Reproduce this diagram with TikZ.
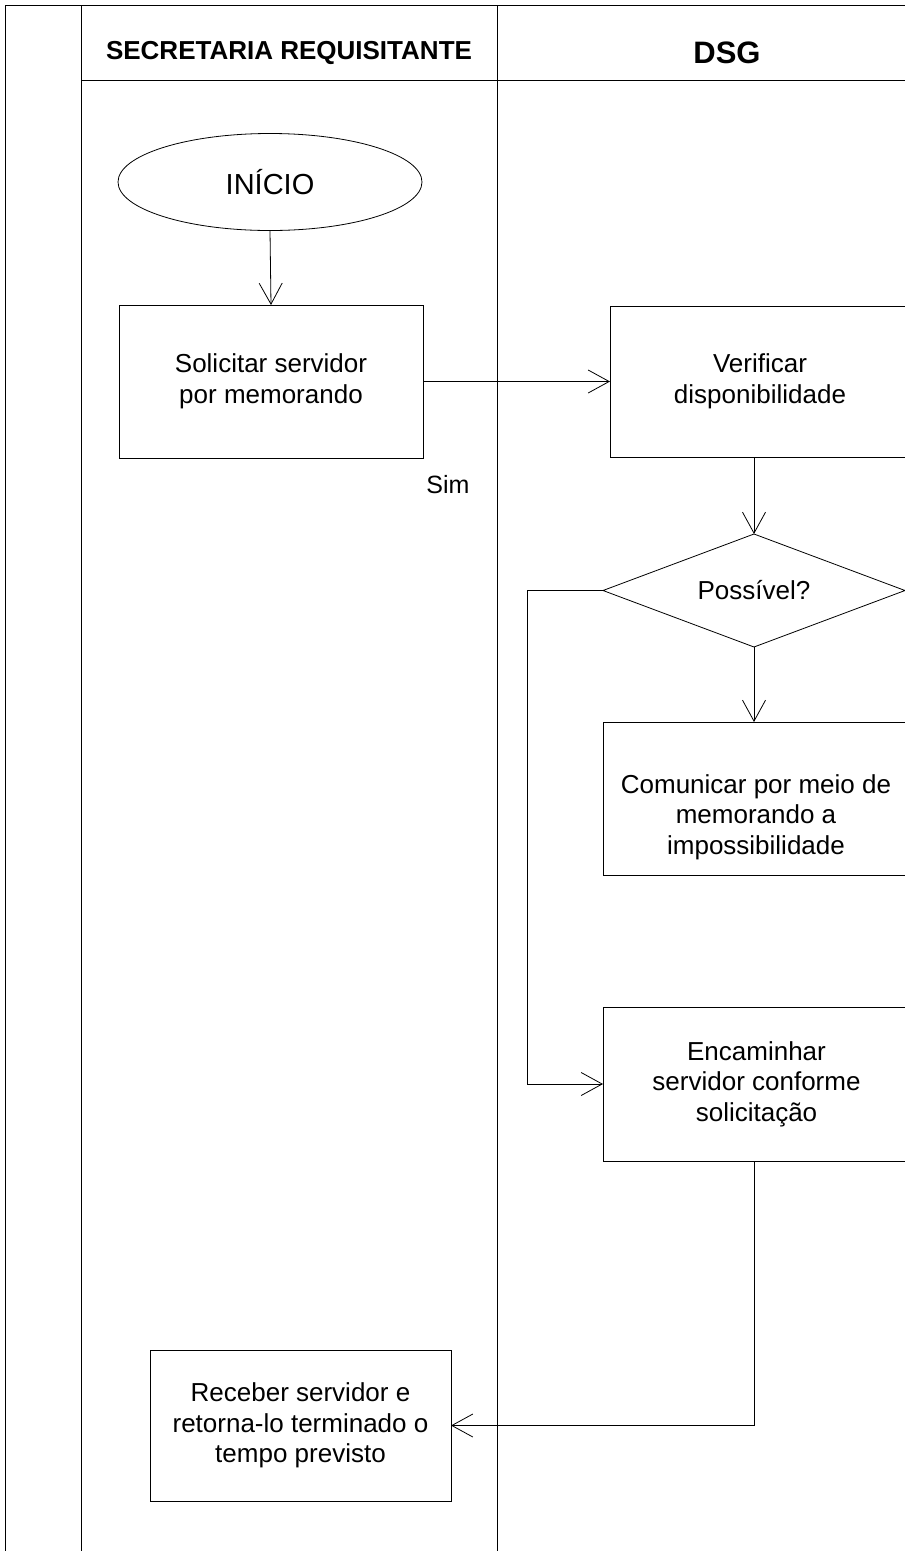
\documentclass[tikz,border=0pt]{standalone}
\usepackage{fontspec}
\setmainfont{Liberation Sans}
\usetikzlibrary{shapes.geometric,arrows.meta}
\begin{document}
\begin{tikzpicture}[x=1pt,y=-1pt,
  line width=0.8pt,
  every node/.style={inner sep=0pt, outer sep=0pt},
  body/.style={font=\fontsize{26}{30.5}\selectfont, align=center},
  box/.style={draw, rectangle, body},
  arr/.style={-{Straight Barb[length=21pt,width=23pt,line width=0.8pt]}},
  lane/.style={line width=0.8pt},
  hdr/.style={font=\bfseries\fontsize{26}{29}\selectfont}
]
\useasboundingbox (0,0) rectangle (905,1551);
\clip (0,0) rectangle (905,1551);

% lanes
\draw[lane] (5,1551) -- (5,5) -- (910,5);
\draw[lane] (81,5) -- (81,1551);
\draw[lane] (497,5) -- (497,1551);
\draw[lane] (81,80) -- (910,80);
\node[hdr] (h1) at (289,53) {SECRETARIA REQUISITANTE};
\node[font=\bfseries\fontsize{31}{34}\selectfont] (h2) at (727,53) {DSG};

% nodes
\node[draw, ellipse, minimum width=304pt, minimum height=97pt,
      font=\fontsize{29}{32}\selectfont] (start) at (270,182) {INÍCIO};
\node[box, minimum width=304pt, minimum height=153pt] (b1) at (271,381.5)
  {Solicitar servidor\\por memorando};
\node[box, minimum width=300pt, minimum height=151pt] (b2) at (760,381.5)
  {Verificar\\disponibilidade};
\node[draw, diamond, aspect=2.67, minimum width=302pt, minimum height=113pt, body] (d) at (754,590.5)
  {Possível?};
\node[draw, rectangle, minimum width=307pt, minimum height=153pt] (b3) at (756.5,798.5) {};
\node[body] (t3) at (756,817) {Comunicar por meio de\\memorando a\\impossibilidade};
\node[box, minimum width=307pt, minimum height=154pt] (b4) at (756.5,1084)
  {Encaminhar\\servidor conforme\\solicitação};
\node[box, minimum width=301pt, minimum height=151pt] (b5) at (300.5,1425.5)
  {Receber servidor e\\retorna-lo terminado o\\tempo previsto};
\node[body, font=\fontsize{25}{28}\selectfont] (sim) at (448,485) {Sim};

\coordinate (c1) at (527,590.5);
\coordinate (c2) at (527,1084);
\coordinate (c3) at (754,1425.5);

% connectors
\draw[arr] (start.south) -- (b1.north);
\draw[arr] (b1.east |- 0,381.5) -- (b2.west |- 0,381.5);
\draw[arr] (754,457) -- (d.north);
\draw[arr] (d.south) -- (d.south |- b3.north);
\draw[arr] (d.west) -- (c1) -- (c2) -- (b4.west);
\draw[arr] (b4.south -| c3) -- (c3) -- (b5.east);
\end{tikzpicture}
\end{document}
